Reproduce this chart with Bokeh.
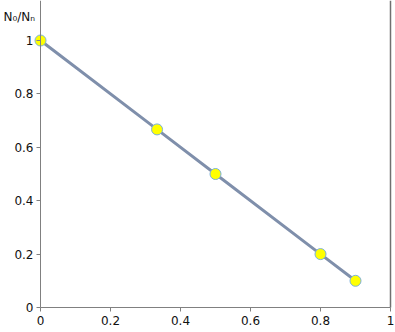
from bokeh.plotting import figure
from bokeh.models import Label, FixedTicker, Range1d, LinearAxis
from bokeh.embed import file_html
from bokeh.resources import INLINE

# data
x_vals = [0, 0.333, 0.5, 0.8, 0.9]
y_vals = [1, 0.667, 0.5, 0.2, 0.1]
x_ticks = [0, 0.2, 0.4, 0.6, 0.8, 1]
x_tick_labels = ["0", "0.2", "0.4", "0.6", "0.8", "1"]
y_ticks = [0, 0.2, 0.4, 0.6, 0.8, 1]
y_tick_labels = ["0", "0.2", "0.4", "0.6", "0.8", "1"]
y_label = "N₀/Nₙ"

W, H = 395, 332
X0, XS = 40, 350   # pixel of x=0, pixels per unit
Y0, YS = 307, 267  # pixel of y=0, pixels per unit
YTOP = Y0 / YS

p = figure(frame_width=W, frame_height=H, output_backend="svg", toolbar_location=None,
           x_range=Range1d(-X0 / XS, (W - X0) / XS), y_range=Range1d(-(H - Y0) / YS, YTOP),
           min_border=0)
p.outline_line_color = None
p.xgrid.visible = False
p.ygrid.visible = False
p.background_fill_color = "white"
p.border_fill_color = "white"

axis_color = "#808080"
font = "DejaVu Sans"
for ax, ticks, labels in ((p.xaxis[0], x_ticks, x_tick_labels), (p.yaxis[0], y_ticks, y_tick_labels)):
    ax.ticker = FixedTicker(ticks=ticks)
    ax.major_label_overrides = {t: l for t, l in zip(ticks, labels)}
    ax.minor_tick_line_color = None
    ax.axis_line_color = axis_color
    ax.major_tick_line_color = axis_color
    ax.major_tick_out = 4
    ax.major_tick_in = 0
    ax.major_label_text_font = font
    ax.major_label_text_font_size = "12px"
    ax.major_label_text_color = "#111111"
    ax.fixed_location = 0
p.xaxis.bounds = (0, 1)
p.yaxis.bounds = (0, YTOP)
p.xaxis.major_label_standoff = 4
p.yaxis.major_label_standoff = 3

right = LinearAxis(fixed_location=1, bounds=(0, YTOP), axis_line_color="#707070", axis_line_width=1.5,
                   ticker=FixedTicker(ticks=[]), major_tick_line_color=None,
                   minor_tick_line_color=None)
p.add_layout(right, "right")

p.line(x_vals, y_vals, line_color="#7f8fab", line_width=3)
p.scatter(x_vals, y_vals, size=11, fill_color="#ffff00", line_color="#7ab0dc", line_width=1)

p.add_layout(Label(x=(3 - X0) / XS, y=(Y0 - 16) / YS, text=y_label, text_font=font,
                   text_font_size="12px", text_color="#111111", text_baseline="alphabetic"))

open("out.html", "w").write(file_html(p, INLINE))
